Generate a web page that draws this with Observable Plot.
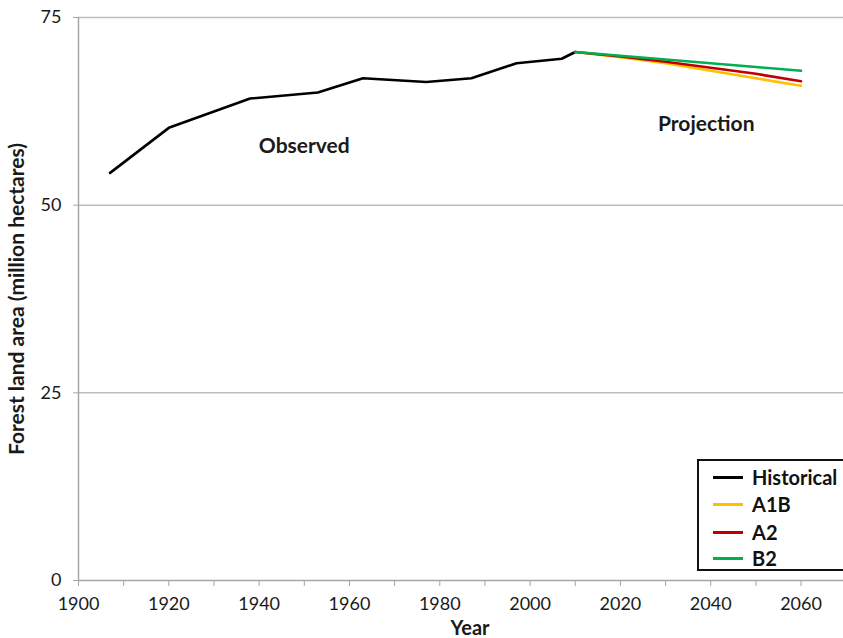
<!DOCTYPE html>
<html>
<head>
<meta charset="utf-8">
<script src="https://cdn.jsdelivr.net/npm/d3@7"></script>
<script src="https://cdn.jsdelivr.net/npm/@observablehq/plot@0.6"></script>
<style>
  body { margin: 0; background: #fff; font-family: Lato, "Open Sans", sans-serif; }
  #wrap { position: relative; width: 843px; height: 638px; overflow: hidden; }
  #legend { position: absolute; left: 697px; top: 459px; width: 160px; height: 112px;
    border: 2px solid #111; background: #fff; box-sizing: border-box; font-weight: bold;
    font-size: 20px; color: #111; }
  #legend .row { position: absolute; left: 14px; height: 24px; display: flex; align-items: center; }
  #legend .sw { width: 30px; height: 3px; margin-right: 9px; }
</style>
</head>
<body>
<div id="wrap"></div>
<script>
// Historical observed forest land area (million hectares)
const histYears  = [1907, 1920, 1938, 1953, 1963, 1977, 1987, 1997, 2007, 2010];
const histValues = [54.3, 60.3, 64.2, 65.0, 66.9, 66.4, 66.9, 68.9, 69.5, 70.4];

// Projections
const projYears = [2010, 2020, 2030, 2040, 2050, 2060];
const a1bValues = [70.4, 69.7, 68.9, 67.9, 66.9, 65.9];
const a2Values  = [70.4, 69.8, 69.1, 68.3, 67.5, 66.5];
const b2Values  = [70.4, 69.9, 69.4, 68.9, 68.4, 67.9];

const seriesNames  = ["Historical", "A1B", "A2", "B2"];
const seriesColors = ["#000000", "#FFC000", "#C00000", "#00B050"];

const yTicks = [0, 25, 50, 75];
const xTicks = d3.range(1900, 2061, 10);

const annotations = [
  {year: 1950, value: 57.8, text: "Observed"},
  {year: 2039, value: 60.8, text: "Projection"}
];

const data = [
  ...histYears.map((y, i) => ({series: "Historical", year: y, value: histValues[i]})),
  ...projYears.map((y, i) => ({series: "A1B", year: y, value: a1bValues[i]})),
  ...projYears.map((y, i) => ({series: "A2", year: y, value: a2Values[i]})),
  ...projYears.map((y, i) => ({series: "B2", year: y, value: b2Values[i]}))
];

const font = "Lato, 'Open Sans', sans-serif";

const chart = Plot.plot({
  width: 843,
  height: 638,
  marginTop: 17,
  marginBottom: 58,
  marginLeft: 78,
  marginRight: 0,
  style: {fontFamily: font, fontSize: "18px", color: "#1a1a1a", background: "#fff"},
  x: {domain: [1900, 2069.4]},
  y: {domain: [0, 75]},
  color: {domain: seriesNames, range: seriesColors},
  marks: [
    Plot.ruleY(yTicks.filter(d => d > 0), {stroke: "#bdbdbd", strokeWidth: 1.5}),
    Plot.ruleX([1900], {y1: 0, y2: 75, stroke: "#a6a6a6", strokeWidth: 1.5}),
    Plot.ruleY([0], {stroke: "#a6a6a6", strokeWidth: 1.5}),
    Plot.axisX({ticks: xTicks, tickFormat: d => d % 20 === 0 ? String(d) : "", tickSize: 6, tickPadding: 11,
      stroke: "#a6a6a6", fill: "#1a1a1a", fontSize: 18, label: null}),
    Plot.axisY({ticks: yTicks, tickSize: 5, tickPadding: 12, stroke: "#a6a6a6", fill: "#1a1a1a",
      fontSize: 18, label: null}),
    Plot.line(data, {x: "year", y: "value", z: "series", stroke: "series", strokeWidth: 2.6,
      strokeLinejoin: "round"}),
    Plot.text(annotations, {x: "year", y: "value", text: "text", fontWeight: "bold", fontSize: 21,
      fill: "#1a1a1a"}),
    Plot.text(["Forest land area (million hectares)"], {frameAnchor: "left", textAnchor: "middle",
      dx: -61, rotate: -90, fontWeight: "bold", fontSize: 21, fill: "#1a1a1a"}),
    Plot.text(["Year"], {frameAnchor: "bottom", dy: 54, dx: 9, fontWeight: "bold", fontSize: 20,
      fill: "#1a1a1a"})
  ]
});

const wrap = document.getElementById("wrap");
wrap.appendChild(chart);

const legend = document.createElement("div");
legend.id = "legend";
const rowTops = [4, 31, 59, 85];
seriesNames.forEach((name, i) => {
  const row = document.createElement("div");
  row.className = "row";
  row.style.top = rowTops[i] + "px";
  const sw = document.createElement("span");
  sw.className = "sw";
  sw.style.background = seriesColors[i];
  row.appendChild(sw);
  const t = document.createElement("span");
  t.textContent = name;
  row.appendChild(t);
  legend.appendChild(row);
});
wrap.appendChild(legend);
</script>
</body>
</html>
